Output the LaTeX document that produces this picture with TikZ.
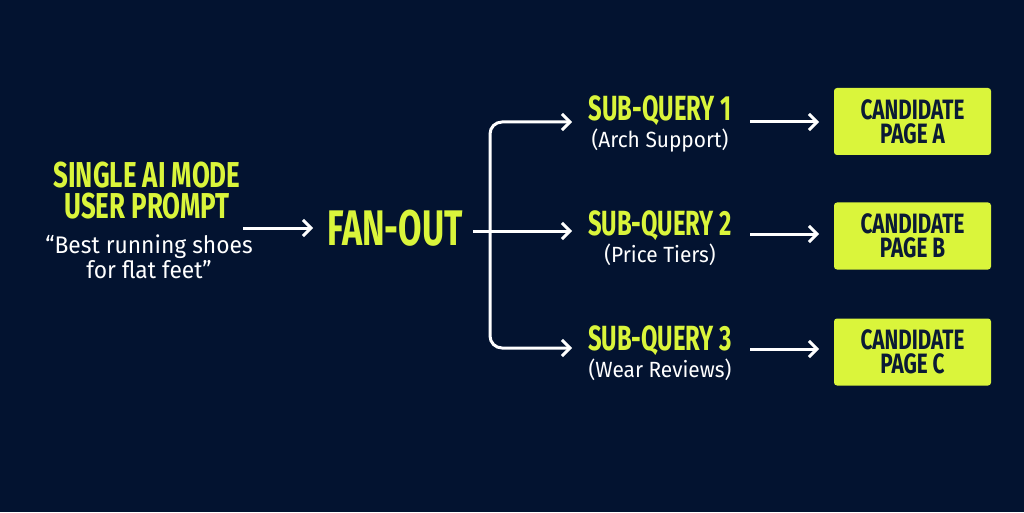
\documentclass[tikz,border=0pt]{standalone}
\usepackage{fontspec}
\usetikzlibrary{arrows.meta}
\newfontfamily\headfont[FakeStretch=0.68]{Fira Sans}
\newfontfamily\titlefont[FakeStretch=0.72]{Fira Sans}
\newfontfamily\candfont[FakeStretch=0.74]{Fira Sans}
\newfontfamily\subfont[FakeStretch=0.95]{Fira Sans}
\definecolor{bgnavy}{HTML}{031330}
\definecolor{lime}{HTML}{DAF53B}
\definecolor{boxtext}{HTML}{0B1A35}
\tikzset{
  head/.style={text=lime, font=\headfont\bfseries\fontsize{35}{32}\selectfont, align=center, inner sep=0pt},
  title/.style={text=lime, font=\titlefont\bfseries\fontsize{36}{31}\selectfont, align=center, inner sep=0pt},
  big/.style={text=lime, font=\headfont\bfseries\fontsize{50}{50}\selectfont, inner sep=0pt},
  sub/.style={text=white, font=\subfont\fontsize{22}{25}\selectfont, align=center, inner sep=0pt},
  quote/.style={text=white, font=\subfont\fontsize{24}{25}\selectfont, align=center, inner sep=0pt},
  cand/.style={fill=lime, rounded corners=3pt, minimum width=157pt, minimum height=67pt, text=boxtext, font=\candfont\bfseries\fontsize{28}{24}\selectfont, align=center, inner sep=0pt},
  conn/.style={draw=white, line width=3pt, -{Straight Barb[length=8pt,width=16pt,line width=3pt]}}
}
\begin{document}
\begin{tikzpicture}[x=1pt,y=1pt]
\fill[bgnavy] (0,0) rectangle (1024,512);
\useasboundingbox (0,0) rectangle (1024,512);
% left block
\node[title] (title) at (147,321) {SINGLE AI MODE\\USER PROMPT};
\node[quote] (quote) at (149,255) {“Best running shoes\\for flat feet”};
\coordinate (a1s) at (243,284);
\coordinate (a1e) at (313,284);
\draw[conn] (a1s) -- (a1e);
\node[big] (fan) at (395,284) {FAN-OUT};
% sub queries
\node[head] (sq1) at (660,401) {SUB-QUERY 1};
\node[sub, anchor=north] (d1) at (660,383) {(Arch Support)};
\node[head] (sq2) at (660,286) {SUB-QUERY 2};
\node[sub, anchor=north] (d2) at (660,268) {(Price Tiers)};
\node[head] (sq3) at (660,171) {SUB-QUERY 3};
\node[sub, anchor=north] (d3) at (660,153) {(Wear Reviews)};
% fan-out connectors
\coordinate (fstart) at (473,281);
\coordinate (b1) at (572,390);
\coordinate (b2) at (572,281);
\coordinate (b3) at (572,164);
\draw[conn] (fstart) -- (b2);
\draw[conn, rounded corners=12pt] (490,281) |- (b1);
\draw[conn, rounded corners=12pt] (490,281) |- (b3);
% candidate boxes
\node[cand] (ca) at (912.5,390.5) {CANDIDATE\\PAGE A};
\node[cand] (cb) at (912.5,276) {CANDIDATE\\PAGE B};
\node[cand] (cc) at (912.5,160) {CANDIDATE\\PAGE C};
\coordinate (s1) at (750,390);
\coordinate (e1) at (819,390);
\coordinate (s2) at (750,278);
\coordinate (e2) at (819,278);
\coordinate (s3) at (750,163);
\coordinate (e3) at (819,163);
\draw[conn] (s1) -- (e1);
\draw[conn] (s2) -- (e2);
\draw[conn] (s3) -- (e3);
\end{tikzpicture}
\end{document}
